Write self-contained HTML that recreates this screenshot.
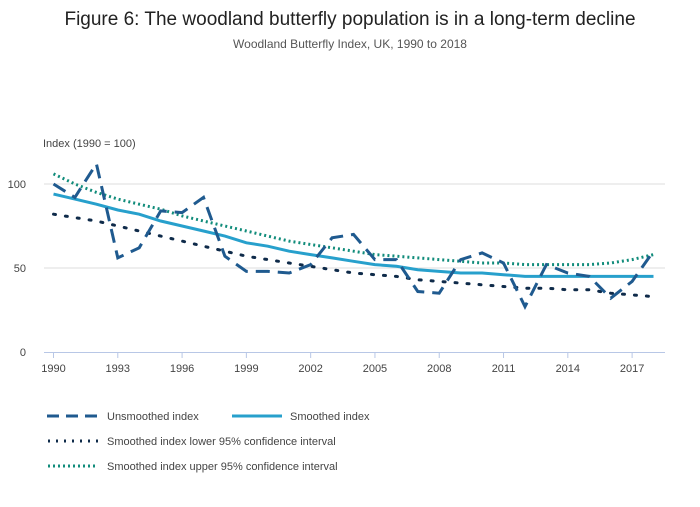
<!DOCTYPE html>
<html><head><meta charset="utf-8"><style>
body{margin:0;background:#fff;font-family:"Liberation Sans",sans-serif;}
svg text{font-family:"Liberation Sans",sans-serif;}
</style></head><body>
<svg width="700" height="502" xmlns="http://www.w3.org/2000/svg">
<text x="350" y="25" text-anchor="middle" font-size="19" fill="#222">Figure 6: The woodland butterfly population is in a long-term decline</text>
<text x="350" y="48" text-anchor="middle" font-size="12" fill="#555">Woodland Butterfly Index, UK, 1990 to 2018</text>
<text x="43" y="147" font-size="11" fill="#444">Index (1990 = 100)</text>
<g id="grid"></g><g id="xt"></g><g id="series"></g>
<g font-size="11" fill="#444">
<line x1="47" y1="416" x2="98" y2="416" stroke="#1f5a8f" stroke-width="3" stroke-dasharray="12,7"/>
<text x="107" y="420">Unsmoothed index</text>
<line x1="232" y1="416" x2="282" y2="416" stroke="#27a0cc" stroke-width="3"/>
<text x="290" y="420">Smoothed index</text>
<line x1="48" y1="441" x2="98" y2="441" stroke="#0f2b4a" stroke-width="3" stroke-dasharray="2,6"/>
<text x="107" y="445">Smoothed index lower 95% confidence interval</text>
<line x1="48" y1="466" x2="98" y2="466" stroke="#118c7b" stroke-width="3" stroke-dasharray="2,3"/>
<text x="107" y="470">Smoothed index upper 95% confidence interval</text>
</g>
</svg>
<script>
const years=[1990,1991,1992,1993,1994,1995,1996,1997,1998,1999,2000,2001,2002,2003,2004,2005,2006,2007,2008,2009,2010,2011,2012,2013,2014,2015,2016,2017,2018];
const unsmoothed=[100,92,112,56,62,84,83,92,57,48,48,47,52,68,70,55,55,36,35,55,59,53,27,52,47,45,32,42,60];
const smoothed=[94,91,88,84.5,82,78,75,72,69,65,63,60,58,56,54,52,51,49,48,47,47,46,45,45,45,45,45,45,45];
const lower=[82,80,78,75,72,69,66,63,60,57,55,53,51,49,47,46,45,43,42,41,40,39,38,38,37,37,35,34,33];
const upper=[106,100,95,91,88,85,81,78,75,72,69,66,64,62,60,58,57,56,55,54,53,53,52,52,52,52,53,55,58];
const yTicks=[0,50,100];
const xTicks=[1990,1993,1996,1999,2002,2005,2008,2011,2014,2017];
const NS="http://www.w3.org/2000/svg";
const X=y=>53.5+(y-1990)*21.43, Y=v=>352-v*1.68;
function mk(t,a,p){const e=document.createElementNS(NS,t);for(const k in a)e.setAttribute(k,a[k]);p.appendChild(e);return e;}
const g=document.getElementById('grid');
yTicks.forEach(v=>{
 if(v>0){const l=mk('line',{x1:44,x2:665,y1:Y(v),y2:Y(v),stroke:'#ddd'},g);
 
 }
 const t=mk('text',{x:26,y:Y(v)+4,'text-anchor':'end','font-size':11,fill:'#444'},g);t.textContent=v;
 
 
});
const ax=mk('line',{x1:44,x2:665,y1:352.5,y2:352.5,stroke:'#b8c7e6'},g);


const xg=document.getElementById('xt');
xTicks.forEach(y=>{
 mk('line',{x1:X(y),x2:X(y),y1:352,y2:358,stroke:'#b8c7e6'},xg);
 const t=mk('text',{x:X(y),y:372,'text-anchor':'middle','font-size':11,fill:'#444'},xg);t.textContent=y;
 
 
});
const sg=document.getElementById('series');
function line(vals,style,name){
 const d=vals.map((v,i)=>(i?'L':'M')+X(years[i]).toFixed(1)+','+Y(v).toFixed(1)).join('');
 const p=mk('path',Object.assign({d:d,fill:'none','stroke-width':3},style),sg);
 
 
}
line(upper,{stroke:'#118c7b','stroke-dasharray':'2,3'},'upper-ci-line');
line(lower,{stroke:'#0f2b4a','stroke-dasharray':'2,10','stroke-linecap':'round'},'lower-ci-line');
line(smoothed,{stroke:'#27a0cc'},'smoothed-line');
line(unsmoothed,{stroke:'#1f5a8f','stroke-dasharray':'14,8'},'unsmoothed-line');
</script>
</body></html>
